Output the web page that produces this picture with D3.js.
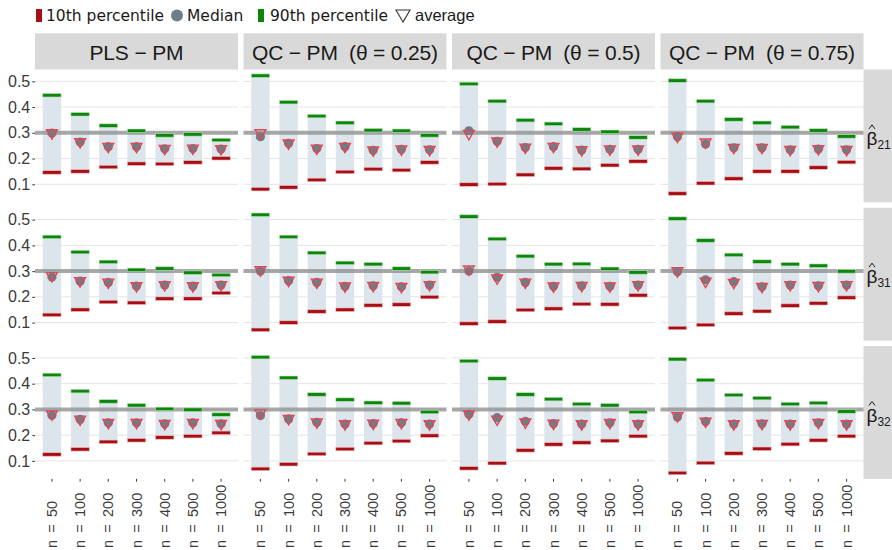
<!DOCTYPE html>
<html>
<head>
<meta charset="utf-8">
<script src="https://cdn.jsdelivr.net/npm/d3@7"></script>
<style>
  html, body { margin: 0; padding: 0; background: #fff; }
  svg { display: block; }
</style>
</head>
<body>
<svg id="chart" width="892" height="550"></svg>
<script>
// Estimation methods (columns), sample sizes (x), coefficients (rows)
const methods = ["PLS \u2212 PM", "QC \u2212 PM  (\u03B8 = 0.25)", "QC \u2212 PM  (\u03B8 = 0.5)", "QC \u2212 PM  (\u03B8 = 0.75)"];
const sizes = ["50", "100", "200", "300", "400", "500", "1000"];
const params = ["21", "31", "32"];
const yTicks = [0.1, 0.2, 0.3, 0.4, 0.5];
const trueValue = 0.3;

// beta_21: one array of 7 sample sizes per method
const p10_b21 = [
  [0.146, 0.150, 0.167, 0.180, 0.179, 0.185, 0.201],
  [0.081, 0.088, 0.117, 0.148, 0.159, 0.155, 0.185],
  [0.099, 0.101, 0.137, 0.162, 0.160, 0.174, 0.189],
  [0.064, 0.104, 0.122, 0.150, 0.150, 0.165, 0.186]
];
const median_b21 = [
  [0.299, 0.264, 0.246, 0.246, 0.238, 0.239, 0.237],
  [0.285, 0.259, 0.239, 0.246, 0.232, 0.236, 0.234],
  [0.308, 0.267, 0.243, 0.246, 0.233, 0.236, 0.236],
  [0.285, 0.257, 0.242, 0.242, 0.234, 0.237, 0.234]
];
const p90_b21 = [
  [0.446, 0.372, 0.328, 0.308, 0.290, 0.294, 0.272],
  [0.522, 0.419, 0.365, 0.339, 0.310, 0.308, 0.290],
  [0.490, 0.423, 0.349, 0.335, 0.313, 0.304, 0.282],
  [0.503, 0.423, 0.352, 0.339, 0.322, 0.309, 0.286]
];
const avg_b21 = [
  [0.300, 0.265, 0.247, 0.247, 0.239, 0.240, 0.238],
  [0.300, 0.260, 0.240, 0.247, 0.233, 0.237, 0.235],
  [0.297, 0.268, 0.244, 0.247, 0.234, 0.237, 0.237],
  [0.286, 0.264, 0.243, 0.243, 0.235, 0.238, 0.235]
];

// beta_31
const p10_b31 = [
  [0.130, 0.150, 0.180, 0.177, 0.193, 0.193, 0.215],
  [0.072, 0.100, 0.143, 0.150, 0.167, 0.170, 0.199],
  [0.096, 0.104, 0.149, 0.154, 0.172, 0.171, 0.206],
  [0.079, 0.091, 0.135, 0.144, 0.166, 0.175, 0.197]
];
const median_b31 = [
  [0.277, 0.261, 0.256, 0.242, 0.246, 0.242, 0.246],
  [0.300, 0.263, 0.256, 0.241, 0.243, 0.239, 0.246],
  [0.300, 0.276, 0.256, 0.241, 0.243, 0.241, 0.246],
  [0.298, 0.266, 0.259, 0.239, 0.246, 0.243, 0.246]
];
const p90_b31 = [
  [0.433, 0.374, 0.336, 0.305, 0.310, 0.294, 0.285],
  [0.519, 0.433, 0.371, 0.332, 0.327, 0.310, 0.296],
  [0.512, 0.425, 0.358, 0.327, 0.328, 0.309, 0.295],
  [0.504, 0.419, 0.363, 0.337, 0.327, 0.321, 0.299]
];
const avg_b31 = [
  [0.282, 0.262, 0.257, 0.243, 0.247, 0.243, 0.247],
  [0.305, 0.264, 0.257, 0.242, 0.244, 0.240, 0.247],
  [0.308, 0.273, 0.257, 0.242, 0.244, 0.242, 0.247],
  [0.301, 0.260, 0.256, 0.240, 0.247, 0.244, 0.247]
];

// beta_32
const p10_b32 = [
  [0.125, 0.145, 0.174, 0.180, 0.191, 0.196, 0.209],
  [0.069, 0.087, 0.127, 0.146, 0.169, 0.177, 0.198],
  [0.071, 0.091, 0.141, 0.164, 0.171, 0.178, 0.196],
  [0.053, 0.092, 0.129, 0.147, 0.165, 0.180, 0.196]
];
const median_b32 = [
  [0.277, 0.261, 0.248, 0.248, 0.244, 0.248, 0.244],
  [0.276, 0.263, 0.250, 0.243, 0.245, 0.248, 0.243],
  [0.281, 0.268, 0.254, 0.245, 0.243, 0.248, 0.243],
  [0.271, 0.253, 0.243, 0.244, 0.243, 0.248, 0.243]
];
const p90_b32 = [
  [0.434, 0.371, 0.331, 0.316, 0.302, 0.299, 0.280],
  [0.503, 0.423, 0.358, 0.338, 0.326, 0.324, 0.290],
  [0.488, 0.420, 0.358, 0.340, 0.321, 0.316, 0.290],
  [0.495, 0.414, 0.356, 0.344, 0.321, 0.325, 0.292]
];
const avg_b32 = [
  [0.282, 0.262, 0.249, 0.249, 0.245, 0.249, 0.245],
  [0.286, 0.264, 0.251, 0.244, 0.246, 0.249, 0.244],
  [0.282, 0.262, 0.251, 0.246, 0.244, 0.249, 0.244],
  [0.275, 0.254, 0.244, 0.245, 0.244, 0.249, 0.244]
];

const p10 = [p10_b21, p10_b31, p10_b32];
const median = [median_b21, median_b31, median_b32];
const p90 = [p90_b21, p90_b31, p90_b32];
const avg = [avg_b21, avg_b31, avg_b32];

// ---- layout ----
const colors = {
  bar: "#dbe5eb",
  low: "#a50f15",
  high: "#0c870c",
  median: "#6d7d8a",
  avg: "#e2474f",
  ref: "#8c8c8c",
  grid: "#e4e4e4",
  strip: "#d9d9d9",
  text: "#1a1a1a",
  axis: "#3a3a3a"
};

const panelLeft = 35, panelW = 203, gap = 5.5;
const stripTop = 33.3, stripH = 36.2;
const panelTop = stripTop + stripH, panelH = 132.8;
const rightStripW = 28.5;

const svg = d3.select("#chart");

const x = d3.scalePoint().domain(sizes).range([0, panelW]).padding(0.6);
const y = d3.scaleLinear().domain([0.03, 0.546]).range([panelH, 0]);
const barW = x.step() * 0.65;

const colX = i => panelLeft + i * (panelW + gap);
const rowY = j => panelTop + j * (panelH + gap);

const triDown = d3.symbol().type(d3.symbolTriangle).size(50);

// ---- legend ----
const legend = svg.append("g");
legend.append("rect").attr("x", 36).attr("y", 9).attr("width", 6).attr("height", 13).attr("fill", colors.low);
legend.append("text").attr("x", 46).attr("y", 21).text("10th percentile")
  .attr("font-family", "DejaVu Sans").attr("font-size", 15.5).attr("fill", colors.text);
legend.append("circle").attr("cx", 177).attr("cy", 15.5).attr("r", 6).attr("fill", colors.median);
legend.append("text").attr("x", 187).attr("y", 21).text("Median")
  .attr("font-family", "DejaVu Sans").attr("font-size", 15.5).attr("fill", colors.text);
legend.append("rect").attr("x", 258).attr("y", 9).attr("width", 6).attr("height", 13).attr("fill", colors.high);
legend.append("text").attr("x", 270).attr("y", 21).text("90th percentile")
  .attr("font-family", "DejaVu Sans").attr("font-size", 15.5).attr("fill", colors.text);
legend.append("path")
  .attr("d", d3.symbol().type(d3.symbolTriangle).size(85)())
  .attr("transform", "translate(403,14) rotate(180)")
  .attr("fill", "none").attr("stroke", "#333").attr("stroke-width", 1.1);
legend.append("text").attr("x", 415).attr("y", 21).text("average")
  .attr("font-family", "Liberation Sans").attr("font-size", 16.5).attr("fill", colors.text);

// ---- column strips ----
const stripTextLen = [94, 186, 174, 186];
methods.forEach((m, i) => {
  svg.append("rect").attr("x", colX(i)).attr("y", stripTop)
    .attr("width", panelW).attr("height", stripH).attr("fill", colors.strip);
  svg.append("text").attr("x", colX(i) + panelW / 2).attr("y", 60)
    .attr("text-anchor", "middle").attr("font-family", "Liberation Sans")
    .attr("font-size", 21).attr("fill", colors.text)
    .attr("textLength", stripTextLen[i]).attr("lengthAdjust", "spacing")
    .style("white-space", "pre")
    .text(m);
});

// ---- row strips (beta-hat labels) ----
params.forEach((p, j) => {
  const sx = colX(methods.length - 1) + panelW;
  svg.append("rect").attr("x", sx).attr("y", rowY(j))
    .attr("width", rightStripW).attr("height", panelH).attr("fill", colors.strip);
  const cy = rowY(j) + panelH / 2;
  const t = svg.append("text").attr("x", sx + 3).attr("y", cy + 9)
    .attr("font-family", "Liberation Sans").attr("fill", colors.text);
  t.append("tspan").attr("font-size", 19).text("\u03B2");
  t.append("tspan").attr("font-size", 12).attr("dy", 4).text(p);
  // hat accent over beta
  svg.append("path")
    .attr("d", `M${sx + 5.5},${cy - 7} L${sx + 8.5},${cy - 11} L${sx + 11.5},${cy - 7}`)
    .attr("fill", "none").attr("stroke", colors.text).attr("stroke-width", 1);
});

// ---- panels ----
params.forEach((p, j) => {
  methods.forEach((m, i) => {
    const g = svg.append("g").attr("transform", `translate(${colX(i)},${rowY(j)})`);

    // horizontal grid
    g.selectAll("line.grid").data(yTicks).join("line")
      .attr("x1", 0).attr("x2", panelW)
      .attr("y1", d => y(d)).attr("y2", d => y(d))
      .attr("stroke", colors.grid).attr("stroke-width", 1);

    const rows = sizes.map((n, k) => ({
      n, lo: p10[j][i][k], hi: p90[j][i][k], med: median[j][i][k], mean: avg[j][i][k]
    }));

    // 10th-90th percentile range
    g.selectAll("rect.range").data(rows).join("rect")
      .attr("x", d => x(d.n) - barW / 2).attr("width", barW)
      .attr("y", d => y(d.hi)).attr("height", d => y(d.lo) - y(d.hi))
      .attr("fill", colors.bar);

    // true value reference line
    g.append("line").attr("x1", 0).attr("x2", panelW)
      .attr("y1", y(trueValue)).attr("y2", y(trueValue))
      .attr("stroke", colors.ref).attr("stroke-width", 4).attr("stroke-opacity", 0.75);

    // percentile ticks
    g.selectAll("rect.lo").data(rows).join("rect")
      .attr("x", d => x(d.n) - barW / 2).attr("width", barW)
      .attr("y", d => y(d.lo) - 1.75).attr("height", 3.5)
      .attr("fill", colors.low).attr("stroke", "#f2b8b8").attr("stroke-width", 0.6);
    g.selectAll("rect.hi").data(rows).join("rect")
      .attr("x", d => x(d.n) - barW / 2).attr("width", barW)
      .attr("y", d => y(d.hi) - 1.75).attr("height", 3.5)
      .attr("fill", colors.high).attr("stroke", "#b8e0b8").attr("stroke-width", 0.6);

    // median
    g.selectAll("circle.med").data(rows).join("circle")
      .attr("cx", d => x(d.n)).attr("cy", d => y(d.med)).attr("r", 4.6)
      .attr("fill", colors.median);

    // average
    g.selectAll("path.avg").data(rows).join("path")
      .attr("d", triDown())
      .attr("transform", d => `translate(${x(d.n)},${y(d.mean)}) rotate(180)`)
      .attr("fill", "none").attr("stroke", colors.avg).attr("stroke-width", 1.4);

    // y axis on first column
    if (i === 0) {
      const ax = svg.append("g").attr("transform", `translate(${colX(0)},${rowY(j)})`)
        .call(d3.axisLeft(y).tickValues(yTicks).tickFormat(d3.format(".1f")).tickSize(2.75).tickPadding(2));
      ax.select(".domain").remove();
      ax.selectAll(".tick line").attr("stroke", colors.axis);
      ax.selectAll(".tick text").attr("font-family", "Liberation Sans")
        .attr("font-size", 16).attr("fill", colors.axis);
    }

    // x axis on bottom row
    if (j === params.length - 1) {
      const xg = svg.append("g").attr("transform", `translate(${colX(i)},${rowY(j) + panelH})`);
      xg.selectAll("line").data(sizes).join("line")
        .attr("x1", d => x(d)).attr("x2", d => x(d))
        .attr("y1", 0).attr("y2", 2.75).attr("stroke", colors.axis);
      xg.selectAll("text").data(sizes).join("text")
        .attr("transform", d => `translate(${x(d)},${548 - (rowY(j) + panelH)}) rotate(-90)`)
        .attr("dominant-baseline", "central")
        .attr("font-family", "Liberation Sans").attr("font-size", 14.5)
        .attr("fill", colors.axis)
        .text(d => "n\u2002=\u2002" + d);
    }
  });
});
</script>
</body>
</html>
